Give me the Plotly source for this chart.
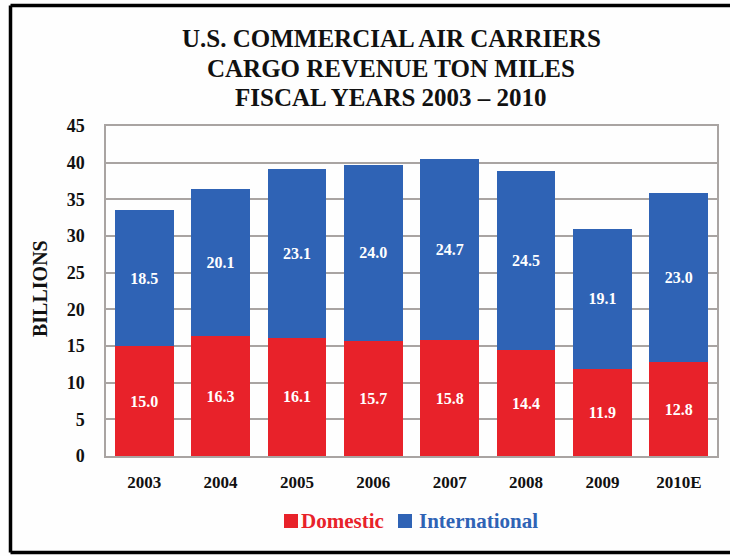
import plotly.graph_objects as go

# Fiscal years and cargo revenue ton miles (billions)
years = ["2003", "2004", "2005", "2006", "2007", "2008", "2009", "2010E"]
domestic = [15.0, 16.3, 16.1, 15.7, 15.8, 14.4, 11.9, 12.8]
international = [18.5, 20.1, 23.1, 24.0, 24.7, 24.5, 19.1, 23.0]
y_ticks = [0, 5, 10, 15, 20, 25, 30, 35, 40, 45]

RED = "#e8222a"
BLUE = "#2f63b5"
SERIF = "Liberation Serif"

W, H = 730, 556
L, R, T, B = 106, 13, 126, 100
PW, PH = W - L - R, H - T - B


def px_x(x):
    return (x - L) / PW


def px_y(y):
    return (H - B - y) / PH


fig = go.Figure()
fig.add_trace(go.Bar(
    x=years, y=domestic, name="Domestic",
    marker=dict(color=RED, line=dict(width=0)),
    text=[f"<b>{v:.1f}</b>" for v in domestic], textposition="inside",
    insidetextanchor="middle",
    textfont=dict(family=SERIF, size=16, color="white"),
))
fig.add_trace(go.Bar(
    x=years, y=international, name="International",
    marker=dict(color=BLUE, line=dict(width=0)),
    text=[f"<b>{v:.1f}</b>" for v in international], textposition="inside",
    insidetextanchor="middle",
    textfont=dict(family=SERIF, size=16, color="white"),
))

title_lines = ["U.S. COMMERCIAL AIR CARRIERS", "CARGO REVENUE TON MILES",
               "FISCAL YEARS 2003 \u2013 2010"]
title_y = [39, 68.5, 98]
annotations = []
for line, yy in zip(title_lines, title_y):
    annotations.append(dict(
        text=f"<b>{line}</b>", xref="paper", yref="paper",
        x=px_x(391), y=px_y(yy), xanchor="center", yanchor="middle",
        showarrow=False, font=dict(family=SERIF, size=25, color="#111111"),
    ))
annotations.append(dict(
    text="<b>BILLIONS</b>", xref="paper", yref="paper",
    x=px_x(40), y=px_y(289), xanchor="center", yanchor="middle",
    textangle=-90, showarrow=False,
    font=dict(family=SERIF, size=20, color="#111111"),
))

# Legend: coloured squares with coloured labels below the plot
legend_items = [("Domestic", RED, 284, 299), ("International", BLUE, 398, 417)]
shapes = []
for label, color, sq_x, txt_x in legend_items:
    shapes.append(dict(
        type="rect", xref="paper", yref="paper",
        x0=px_x(sq_x), x1=px_x(sq_x + 14), y0=px_y(528), y1=px_y(514),
        fillcolor=color, line=dict(width=0),
    ))
    annotations.append(dict(
        text=f"<b>{label}</b>", xref="paper", yref="paper",
        x=px_x(txt_x), y=px_y(521), xanchor="left", yanchor="middle",
        showarrow=False, font=dict(family=SERIF, size=21, color=color),
    ))

# Outer black frame
border = dict(color="black", width=3.5)
shapes += [
    dict(type="line", xref="paper", yref="paper", x0=px_x(10.5), x1=px_x(10.5),
         y0=px_y(5.5), y1=px_y(552.5), line=border),
    dict(type="line", xref="paper", yref="paper", x0=px_x(10.5), x1=px_x(745),
         y0=px_y(5.5), y1=px_y(5.5), line=border),
    dict(type="line", xref="paper", yref="paper", x0=px_x(10.5), x1=px_x(745),
         y0=px_y(552.5), y1=px_y(552.5), line=border),
]

fig.update_layout(
    width=W, height=H,
    margin=dict(l=L, r=R, t=T, b=B, pad=0),
    barmode="stack", bargap=0.23,
    paper_bgcolor="#fefefe", plot_bgcolor="#fefefe",
    font=dict(family=SERIF, color="#111111"),
    showlegend=False,
    annotations=annotations,
    shapes=shapes,
    uniformtext=dict(mode="show", minsize=16),
)

fig.update_xaxes(
    tickfont=dict(family=SERIF, size=17, color="#111111"),
    tickprefix="<b>", ticksuffix="</b>",
    showline=True, mirror=True, linecolor="#a9a4a2", linewidth=1.5,
    ticks="", ticklabelstandoff=10,
)
fig.update_yaxes(
    range=[0, 45], tickvals=y_ticks,
    ticktext=[f"<b>{v}</b>" for v in y_ticks],
    tickfont=dict(family=SERIF, size=18, color="#111111"),
    showgrid=True, gridcolor="#a9a4a2", gridwidth=1.5,
    showline=True, mirror=True, linecolor="#a9a4a2", linewidth=1.5,
    zeroline=False, ticks="", ticklabelstandoff=16,
)

fig.write_html("out.html")
